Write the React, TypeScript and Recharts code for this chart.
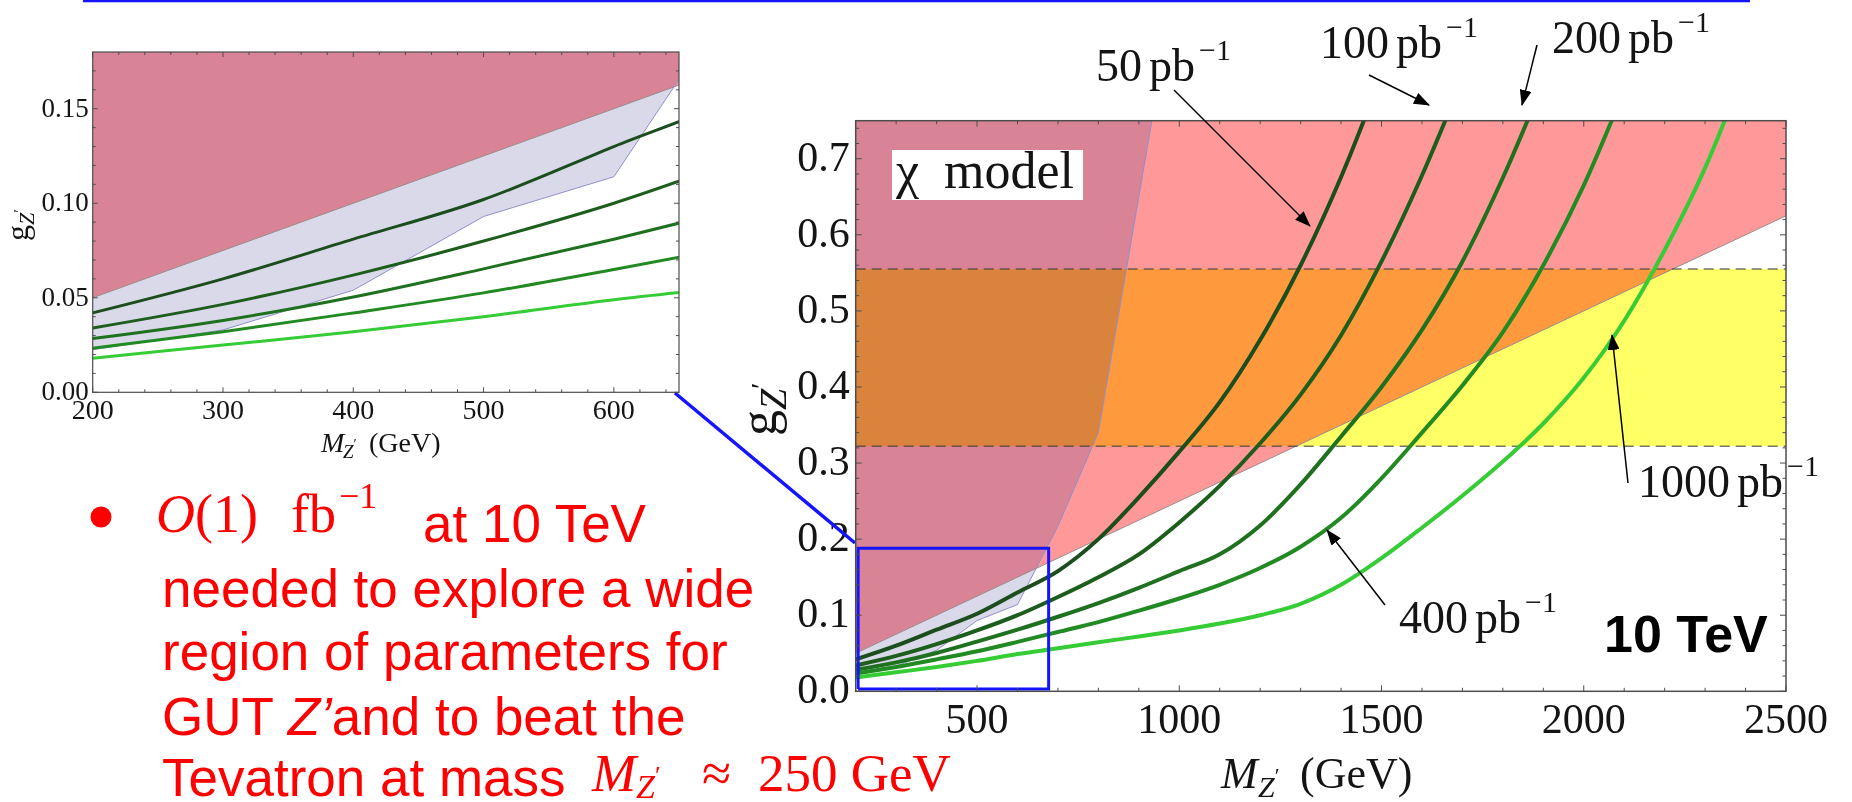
import React from 'react';
import { ComposedChart, Line, Area, XAxis, YAxis } from 'recharts';

const PAGE_W = 1852;
const PAGE_H = 802;

// Z' mass grid (GeV) on which the discovery-reach curves are sampled
const MASS_GEV = [200, 300, 400, 500, 600, 700, 800, 900, 1000, 1100, 1200, 1300, 1400, 1500, 1600, 1700, 1800, 1900, 2000, 2100, 2200, 2300, 2400, 2500];

// coupling g_Z' reached for each integrated luminosity (pb^-1)
const G_50PB = [0.042, 0.060, 0.081, 0.102, 0.130, 0.158, 0.200, 0.255, 0.315, 0.380, 0.462, 0.560, 0.676, 0.810, null, null, null, null, null, null, null, null, null, null];
const G_100PB = [0.034, 0.0465, 0.062, 0.080, 0.100, 0.124, 0.150, 0.180, 0.222, 0.270, 0.326, 0.390, 0.468, 0.565, 0.678, 0.805, null, null, null, null, null, null, null, null];
const G_200PB = [0.0284, 0.038, 0.0504, 0.0653, 0.081, 0.098, 0.116, 0.136, 0.158, 0.180, 0.218, 0.272, 0.335, 0.400, 0.475, 0.565, 0.675, 0.800, null, null, null, null, null, null];
const G_400PB = [0.0233, 0.032, 0.042, 0.0526, 0.065, 0.078, 0.091, 0.106, 0.122, 0.140, 0.162, 0.190, 0.228, 0.280, 0.340, 0.402, 0.472, 0.560, 0.665, 0.790, null, null, null, null];
const G_1000PB = [0.018, 0.025, 0.032, 0.040, 0.049, 0.0565, 0.0645, 0.072, 0.080, 0.089, 0.100, 0.115, 0.140, 0.175, 0.215, 0.257, 0.302, 0.352, 0.412, 0.487, 0.580, 0.688, 0.820, null];

const LUMI_KEYS = ['l50', 'l100', 'l200', 'l400', 'l1000'];
const LUMI_COLORS = ['#1b4d1d', '#1d5e1d', '#1f701f', '#228a22', '#36cc36'];

// Tevatron exclusion boundary (excluded to the upper left)
const TEV_MASS = [200, 300, 400, 500, 600, 700, 800, 900, 1000];
const TEV_G = [0.0225, 0.033, 0.054, 0.093, 0.114, 0.217, 0.340, 0.650, 0.960];

// upper bound on the coupling (excluded above the line)
const BOUND_MASS = [200, 2500];
const BOUND_G = [0.05, 0.625];

// chi-model coupling band
const BAND_G = [0.322, 0.555];

const G_TOP = 0.75;

// zoom window marked on the main panel
const ZOOM_BOX_M = [206, 677, 677, 206, 206];
const ZOOM_BOX_G = [0.003, 0.003, 0.188, 0.188, 0.003];

// ticks
const MAIN_X_MAJOR = [500, 1000, 1500, 2000, 2500];
const MAIN_X_MINOR = [300, 400, 600, 700, 800, 900, 1100, 1200, 1300, 1400, 1600, 1700, 1800, 1900, 2100, 2200, 2300, 2400];
const MAIN_Y_MAJOR = [0, 0.1, 0.2, 0.3, 0.4, 0.5, 0.6, 0.7];
const MAIN_Y_MINOR = [0.02, 0.04, 0.06, 0.08, 0.12, 0.14, 0.16, 0.18, 0.22, 0.24, 0.26, 0.28, 0.32, 0.34, 0.36, 0.38, 0.42, 0.44, 0.46, 0.48, 0.52, 0.54, 0.56, 0.58, 0.62, 0.64, 0.66, 0.68, 0.72, 0.74];
const INSET_X_MAJOR = [200, 300, 400, 500, 600];
const INSET_X_MINOR = [220, 240, 260, 280, 320, 340, 360, 380, 420, 440, 460, 480, 520, 540, 560, 580, 620, 640];
const INSET_Y_MAJOR = [0, 0.05, 0.1, 0.15];
const INSET_Y_MINOR = [0.01, 0.02, 0.03, 0.04, 0.06, 0.07, 0.08, 0.09, 0.11, 0.12, 0.13, 0.14, 0.16, 0.17];

// colours
const SALMON = '#ff9999';
const MAUVE = '#d98396';
const LAVENDER = '#d9d9ea';
const YELLOW = '#ffff66';
const BLUE = '#1414ff';
const RED = '#ff0000';
const INK = '#141414';
const FRAME = '#4d4d4d';

const SERIF = "'Liberation Serif', 'DejaVu Serif', serif";
const SANS = "'Liberation Sans', Arial, sans-serif";

// ---- derived tables ----
const interp = (xs: number[], ys: number[], x: number) => {
  for (let i = 0; i < xs.length - 1; i++) {
    if (x >= xs[i] && x <= xs[i + 1]) {
      const t = (x - xs[i]) / (xs[i + 1] - xs[i]);
      return ys[i] + t * (ys[i + 1] - ys[i]);
    }
  }
  return x < xs[0] ? ys[0] : ys[ys.length - 1];
};
const boundAt = (m: number) => interp(BOUND_MASS, BOUND_G, m);

const tevPoints = TEV_MASS.map((m, i) => ({ m, g: TEV_G[i] }));

// where the Tevatron boundary meets the upper bound line
const crossing = (() => {
  for (let i = 0; i < TEV_MASS.length - 1; i++) {
    const d0 = TEV_G[i] - boundAt(TEV_MASS[i]);
    const d1 = TEV_G[i + 1] - boundAt(TEV_MASS[i + 1]);
    if (d0 < 0 && d1 >= 0) {
      const t = d0 / (d0 - d1);
      const m = TEV_MASS[i] + t * (TEV_MASS[i + 1] - TEV_MASS[i]);
      return { m, g: boundAt(m) };
    }
  }
  return { m: TEV_MASS[0], g: TEV_G[0] };
})();

const curveRows = MASS_GEV.map((m, i) => ({
  m,
  l50: G_50PB[i],
  l100: G_100PB[i],
  l200: G_200PB[i],
  l400: G_400PB[i],
  l1000: G_1000PB[i],
}));

const boundRows = BOUND_MASS.map((m, i) => ({ m, g: BOUND_G[i] }));
const excludedRows = BOUND_MASS.map((m, i) => ({ m, range: [BOUND_G[i], G_TOP] }));
const overlapRows = [
  ...tevPoints.filter((p) => p.m < crossing.m).map((p) => ({ m: p.m, range: [boundAt(p.m), G_TOP] })),
  { m: crossing.m, range: [crossing.g, G_TOP] },
  ...tevPoints.filter((p) => p.m > crossing.m).map((p) => ({ m: p.m, range: [p.g, G_TOP] })),
];
const tevOnlyRows = [
  ...tevPoints.filter((p) => p.m < crossing.m).map((p) => ({ m: p.m, range: [p.g, boundAt(p.m)] })),
  { m: crossing.m, range: [crossing.g, crossing.g] },
];
const bandRows = [MASS_GEV[0], MASS_GEV[MASS_GEV.length - 1]].map((m) => ({ m, range: [BAND_G[0], BAND_G[1]] }));
const bandLowRows = [MASS_GEV[0], MASS_GEV[MASS_GEV.length - 1]].map((m) => ({ m, g: BAND_G[0] }));
const bandHighRows = [MASS_GEV[0], MASS_GEV[MASS_GEV.length - 1]].map((m) => ({ m, g: BAND_G[1] }));
const zoomBoxRows = ZOOM_BOX_M.map((m, i) => ({ m, g: ZOOM_BOX_G[i] }));

// ---- panel geometry ----
type Box = { left: number; top: number; right: number; bottom: number };
const MAIN_BOX: Box = { left: 855.7, top: 120.7, right: 1786, bottom: 691.3 };
const INSET_BOX: Box = { left: 92.7, top: 52, right: 679, bottom: 392.3 };
const INSET_W = 700;
const INSET_H = 470;
const AXIS_W = 60;
const AXIS_H = 50;

type TickStyle = { major: number; minor: number; fontSize: number; labelOffset: number };

const isIn = (list: number[], v: number) => list.some((x) => Math.abs(x - v) < 1e-9);

// frame ticks pointing inward on bottom and top, label under the bottom edge
const makeXTick = (box: Box, majors: number[], fmt: (v: number) => string, st: TickStyle) => (props: any) => {
  const x = props.x;
  const v = props.payload ? props.payload.value : 0;
  const major = isIn(majors, v);
  const len = major ? st.major : st.minor;
  return (
    <g>
      <line x1={x} x2={x} y1={box.bottom} y2={box.bottom - len} stroke={FRAME} strokeWidth={1} />
      <line x1={x} x2={x} y1={box.top} y2={box.top + len} stroke={FRAME} strokeWidth={1} />
      {major ? (
        <text x={x} y={box.bottom + st.labelOffset} textAnchor="middle" fontFamily={SERIF} fontSize={st.fontSize} fill={INK}>
          {fmt(v)}
        </text>
      ) : null}
    </g>
  );
};

// frame ticks pointing inward on left and right, label left of the frame
const makeYTick = (box: Box, majors: number[], fmt: (v: number) => string, st: TickStyle, gap: number) => (props: any) => {
  const y = props.y;
  const v = props.payload ? props.payload.value : 0;
  const major = isIn(majors, v);
  const len = major ? st.major : st.minor;
  return (
    <g>
      <line x1={box.left} x2={box.left + len} y1={y} y2={y} stroke={FRAME} strokeWidth={1} />
      <line x1={box.right} x2={box.right - len} y1={y} y2={y} stroke={FRAME} strokeWidth={1} />
      {major ? (
        <text x={box.left - gap} y={y + st.labelOffset} textAnchor="end" fontFamily={SERIF} fontSize={st.fontSize} fill={INK}>
          {fmt(v)}
        </text>
      ) : null}
    </g>
  );
};

const sorted = (a: number[], b: number[]) => [...a, ...b].sort((p, q) => p - q);

const regionSeries = (k: string, curveWidth: number, showBox: boolean) => {
  const items = [
    <Area key={k + 'ex'} data={excludedRows} dataKey="range" type="linear" fill={SALMON} fillOpacity={1} stroke="none" dot={false} activeDot={false} isAnimationActive={false} />,
    <Area key={k + 'ov'} data={overlapRows} dataKey="range" type="linear" fill={MAUVE} fillOpacity={1} stroke="none" dot={false} activeDot={false} isAnimationActive={false} />,
    <Area key={k + 'tv'} data={tevOnlyRows} dataKey="range" type="linear" fill={LAVENDER} fillOpacity={1} stroke="none" dot={false} activeDot={false} isAnimationActive={false} />,
    <Area key={k + 'bd'} data={bandRows} dataKey="range" type="linear" fill={YELLOW} fillOpacity={1} stroke="none" className="band-multiply" dot={false} activeDot={false} isAnimationActive={false} />,
    <Line key={k + 'bl'} data={boundRows} dataKey="g" type="linear" stroke="#9b8a8a" strokeWidth={1} dot={false} activeDot={false} isAnimationActive={false} />,
    <Line key={k + 'tl'} data={tevPoints} dataKey="g" type="linear" stroke="#8f8fcc" strokeWidth={1} dot={false} activeDot={false} isAnimationActive={false} />,
    <Line key={k + 'dl'} data={bandLowRows} dataKey="g" type="linear" stroke="#3a3a3a" strokeOpacity={0.7} strokeWidth={1.6} strokeDasharray="10 6" dot={false} activeDot={false} isAnimationActive={false} />,
    <Line key={k + 'dh'} data={bandHighRows} dataKey="g" type="linear" stroke="#3a3a3a" strokeOpacity={0.7} strokeWidth={1.6} strokeDasharray="10 6" dot={false} activeDot={false} isAnimationActive={false} />,
    ...LUMI_KEYS.map((key, i) => (
      <Line key={k + key} data={curveRows} dataKey={key} type="monotone" stroke={LUMI_COLORS[i]} strokeWidth={curveWidth} strokeLinejoin="round" dot={false} activeDot={false} connectNulls={false} isAnimationActive={false} />
    )),
  ];
  if (showBox) {
    items.push(
      <Line key={k + 'zb'} data={zoomBoxRows} dataKey="g" type="linear" stroke={BLUE} strokeWidth={3} strokeLinejoin="miter" dot={false} activeDot={false} isAnimationActive={false} />
    );
  }
  return items;
};

const PbLabel = ({ x, y, value }: { x: number; y: number; value: string }) => (
  <text x={x} y={y} fontFamily={SERIF} fontSize={46} fill={INK}>
    {value}
    <tspan dx={7}>pb</tspan>
    <tspan dx={4} dy={-21} fontSize={30}>−1</tspan>
  </text>
);

const Annotations = () => (
  <svg width={PAGE_W} height={PAGE_H} style={{ position: 'absolute', left: 0, top: 0, pointerEvents: 'none' }}>
    <defs>
      <marker id="arrowHead" markerWidth={16} markerHeight={12} refX={15} refY={6} orient="auto" markerUnits="userSpaceOnUse">
        <path d="M0,0 L16,6 L0,12 z" fill="#000" />
      </marker>
    </defs>

    {/* title rule and zoom connector */}
    <line x1={83} y1={1} x2={1750} y2={1} stroke={BLUE} strokeWidth={2.5} />
    <line x1={675} y1={393} x2={855} y2={543} stroke={BLUE} strokeWidth={3.5} />

    {/* panel frames */}
    <rect x={MAIN_BOX.left} y={MAIN_BOX.top} width={MAIN_BOX.right - MAIN_BOX.left} height={MAIN_BOX.bottom - MAIN_BOX.top} fill="none" stroke={FRAME} strokeWidth={1.5} />
    <rect x={INSET_BOX.left} y={INSET_BOX.top} width={INSET_BOX.right - INSET_BOX.left} height={INSET_BOX.bottom - INSET_BOX.top} fill="none" stroke={FRAME} strokeWidth={1.2} />

    {/* model tag */}
    <rect x={892} y={150} width={191} height={50} fill="#fff" />
    <text x={896} y={188} fontFamily={SERIF} fontSize={52} fill={INK}>
      <tspan>χ</tspan>
      <tspan x={944}>model</tspan>
    </text>

    {/* luminosity labels and arrows */}
    <PbLabel x={1096} y={81} value="50" />
    <PbLabel x={1320} y={58} value="100" />
    <PbLabel x={1552} y={53} value="200" />
    <PbLabel x={1638} y={497} value="1000" />
    <PbLabel x={1399} y={633} value="400" />
    <line x1={1174} y1={90} x2={1310} y2={226} stroke="#000" strokeWidth={1.5} markerEnd="url(#arrowHead)" />
    <line x1={1369} y1={75} x2={1429} y2={105} stroke="#000" strokeWidth={1.5} markerEnd="url(#arrowHead)" />
    <line x1={1537} y1={45} x2={1522} y2={105} stroke="#000" strokeWidth={1.5} markerEnd="url(#arrowHead)" />
    <line x1={1628} y1={483} x2={1612} y2={335} stroke="#000" strokeWidth={1.5} markerEnd="url(#arrowHead)" />
    <line x1={1385} y1={605} x2={1327} y2={530} stroke="#000" strokeWidth={1.5} markerEnd="url(#arrowHead)" />

    <text x={1604} y={652} fontFamily={SANS} fontWeight="bold" fontSize={52} fill="#000">10 TeV</text>

    {/* main axis titles */}
    <text x={1221} y={788} fontFamily={SERIF} fontSize={44} fill={INK}>
      <tspan fontStyle="italic">M</tspan>
      <tspan x={1258} dy={9} fontStyle="italic" fontSize={30}>Z</tspan>
      <tspan dy={-14} fontSize={22}>′</tspan>
      <tspan x={1300} dy={5}>(GeV)</tspan>
    </text>
    <text transform="translate(776,436) rotate(-90)" fontFamily={SERIF} fontSize={52} fill={INK}>
      <tspan>g</tspan>
      <tspan dy={10} fontStyle="italic" fontSize={38}>Z</tspan>
      <tspan dy={-16} fontSize={28}>′</tspan>
    </text>

    {/* inset axis titles */}
    <text x={321} y={452} fontFamily={SERIF} fontSize={28} fill={INK}>
      <tspan fontStyle="italic">M</tspan>
      <tspan x={343} dy={6} fontStyle="italic" fontSize={19}>Z</tspan>
      <tspan dy={-9} fontSize={14}>′</tspan>
      <tspan x={369} dy={3}>(GeV)</tspan>
    </text>
    <text transform="translate(28,241) rotate(-90)" fontFamily={SERIF} fontSize={32} fill={INK}>
      <tspan>g</tspan>
      <tspan dy={6} fontStyle="italic" fontSize={22}>Z</tspan>
      <tspan dy={-9} fontSize={16}>′</tspan>
    </text>

    {/* bullet text */}
    <circle cx={101} cy={517} r={10.5} fill={RED} />
    <text x={156} y={532} fontFamily={SERIF} fontSize={54} fill={RED}>
      <tspan fontStyle="italic">O</tspan>
      <tspan>(1)</tspan>
      <tspan x={291}>fb</tspan>
      <tspan x={339} dy={-24} fontSize={36}>−1</tspan>
    </text>
    <text x={423} y={542} fontFamily={SANS} fontSize={53} fill={RED}>at 10 TeV</text>
    <text x={162} y={607} fontFamily={SANS} fontSize={53} fill={RED}>needed to explore a wide</text>
    <text x={162} y={670} fontFamily={SANS} fontSize={53} fill={RED}>region of parameters for</text>
    <text x={162} y={735} fontFamily={SANS} fontSize={53} fill={RED}>
      GUT <tspan fontStyle="italic">Z’</tspan>and to beat the
    </text>
    <text x={162} y={796} fontFamily={SANS} fontSize={53} fill={RED}>Tevatron at mass</text>
    <text x={592} y={791} fontFamily={SERIF} fontSize={53} fill={RED}>
      <tspan fontStyle="italic">M</tspan>
      <tspan x={636} dy={7} fontStyle="italic" fontSize={34}>Z</tspan>
      <tspan dy={-14} fontSize={26}>′</tspan>
      <tspan x={702} dy={7}>≈</tspan>
      <tspan x={758}>250 GeV</tspan>
    </text>
  </svg>
);

export default function App() {
  return (
    <div style={{ position: 'absolute', left: 0, top: 0, width: PAGE_W, height: PAGE_H, background: '#fff', overflow: 'hidden' }}>
      <style>{`.band-multiply { mix-blend-mode: multiply; }`}</style>

      {/* main panel */}
      <div style={{ position: 'absolute', left: 0, top: 0 }}>
        <ComposedChart
          width={PAGE_W}
          height={PAGE_H}
          margin={{
            top: MAIN_BOX.top,
            right: PAGE_W - MAIN_BOX.right,
            bottom: PAGE_H - MAIN_BOX.bottom - AXIS_H,
            left: MAIN_BOX.left - AXIS_W,
          }}
        >
          {regionSeries('main', 4, true)}
          <XAxis
            dataKey="m"
            type="number"
            domain={[200, 2500]}
            allowDataOverflow
            ticks={sorted(MAIN_X_MAJOR, MAIN_X_MINOR)}
            interval={0}
            tickLine={false}
            axisLine={false}
            height={AXIS_H}
            tick={makeXTick(MAIN_BOX, MAIN_X_MAJOR, (v) => String(v), { major: 6, minor: 3.5, fontSize: 42, labelOffset: 42 })}
          />
          <YAxis
            type="number"
            domain={[0, G_TOP]}
            allowDataOverflow
            ticks={sorted(MAIN_Y_MAJOR, MAIN_Y_MINOR)}
            interval={0}
            tickLine={false}
            axisLine={false}
            width={AXIS_W}
            tick={makeYTick(MAIN_BOX, MAIN_Y_MAJOR, (v) => v.toFixed(1), { major: 6, minor: 3.5, fontSize: 42, labelOffset: 12 }, 6)}
          />
        </ComposedChart>
      </div>

      {/* zoomed inset */}
      <div style={{ position: 'absolute', left: 0, top: 0 }}>
        <ComposedChart
          width={INSET_W}
          height={INSET_H}
          margin={{
            top: INSET_BOX.top,
            right: INSET_W - INSET_BOX.right,
            bottom: INSET_H - INSET_BOX.bottom - AXIS_H,
            left: INSET_BOX.left - AXIS_W,
          }}
        >
          {regionSeries('inset', 3, false)}
          <XAxis
            dataKey="m"
            type="number"
            domain={[200, 650]}
            allowDataOverflow
            ticks={sorted(INSET_X_MAJOR, INSET_X_MINOR)}
            interval={0}
            tickLine={false}
            axisLine={false}
            height={AXIS_H}
            tick={makeXTick(INSET_BOX, INSET_X_MAJOR, (v) => String(v), { major: 5, minor: 3, fontSize: 28, labelOffset: 27 })}
          />
          <YAxis
            type="number"
            domain={[0, 0.18]}
            allowDataOverflow
            ticks={sorted(INSET_Y_MAJOR, INSET_Y_MINOR)}
            interval={0}
            tickLine={false}
            axisLine={false}
            width={AXIS_W}
            tick={makeYTick(INSET_BOX, INSET_Y_MAJOR, (v) => v.toFixed(2), { major: 5, minor: 3, fontSize: 27, labelOffset: 8 }, 4)}
          />
        </ComposedChart>
      </div>

      <Annotations />
    </div>
  );
}
